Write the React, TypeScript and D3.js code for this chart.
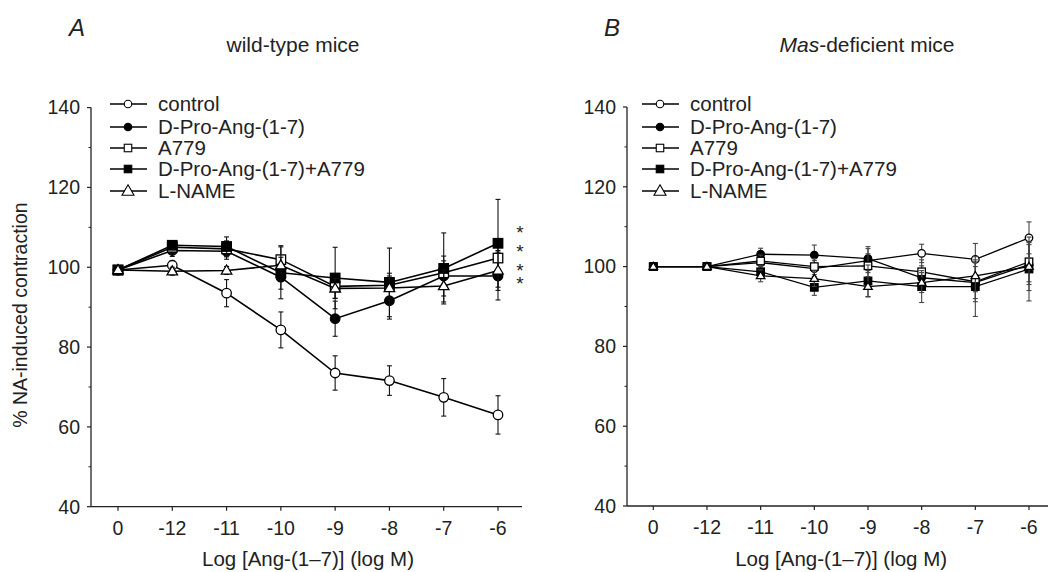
import React from 'react';
import * as d3 from 'd3';

const doses = ['0', '-12', '-11', '-10', '-9', '-8', '-7', '-6'];
const seriesNames = ['control', 'D-Pro-Ang-(1-7)', 'A779', 'D-Pro-Ang-(1-7)+A779', 'L-NAME'];
const seriesShapes = ['circleOpen', 'circleFilled', 'squareOpen', 'squareFilled', 'triangleOpen'];
const yTicks = [40, 60, 80, 100, 120, 140];
const yMinorTicks = [50, 70, 90, 110, 130];

// panel A, wild-type
const wtControl = [99.3, 100.5, 93.5, 84.3, 73.5, 71.6, 67.4, 63.0];
const wtControlErr = [0.5, 1.2, 3.4, 4.5, 4.3, 3.7, 4.7, 4.8];
const wtDPro = [99.3, 104.2, 104.0, 97.5, 87.1, 91.6, 97.8, 97.8];
const wtDProErr = [0.5, 1.5, 2.0, 3.0, 4.4, 4.6, 5.0, 6.0];
const wtA779 = [99.3, 105.0, 104.6, 101.9, 95.2, 95.5, 98.6, 102.3];
const wtA779Err = [0.5, 1.5, 2.0, 3.5, 3.0, 3.0, 3.0, 4.0];
const wtCombo = [99.3, 105.5, 105.2, 98.6, 97.3, 96.2, 99.7, 106.0];
const wtComboErr = [0.5, 1.0, 2.4, 6.5, 7.7, 8.6, 8.9, 11.0];
const wtLName = [99.3, 99.0, 99.2, 100.5, 94.7, 94.8, 95.3, 99.2];
const wtLNameErr = [0.5, 1.0, 1.0, 2.0, 2.5, 3.0, 4.0, 5.0];
const wtStars = [109.3, 104.5, 99.7, 96.5];

// panel B, Mas-deficient
const koControl = [100, 100, 101.0, 99.5, 101.5, 103.3, 101.8, 107.2];
const koControlErr = [0.3, 0.5, 1.5, 2.0, 3.0, 2.3, 4.0, 4.0];
const koDPro = [100, 100, 103.1, 102.9, 102.0, 97.2, 96.0, 100.5];
const koDProErr = [0.3, 0.5, 1.5, 2.5, 3.0, 3.0, 4.0, 5.0];
const koA779 = [100, 100, 101.4, 100.0, 100.2, 98.7, 96.2, 101.2];
const koA779Err = [0.3, 0.5, 1.5, 2.0, 3.0, 3.0, 5.0, 5.0];
const koCombo = [100, 100, 98.7, 94.8, 96.4, 95.0, 95.0, 99.4];
const koComboErr = [0.3, 0.5, 1.5, 2.0, 4.0, 4.0, 7.5, 8.0];
const koLName = [100, 100, 97.7, 97.0, 95.0, 96.0, 97.7, 100.0];
const koLNameErr = [0.3, 0.5, 1.5, 2.0, 2.5, 2.5, 4.0, 6.0];

const FONT = '"Liberation Sans", Arial, Helvetica, sans-serif';

type Series = { name: string; shape: string; values: number[]; errs: number[] };

const wtSeries: Series[] = [
  [wtControl, wtControlErr], [wtDPro, wtDProErr], [wtA779, wtA779Err], [wtCombo, wtComboErr], [wtLName, wtLNameErr],
].map(([v, e], i) => ({ name: seriesNames[i], shape: seriesShapes[i], values: v, errs: e }));

const koSeries: Series[] = [
  [koControl, koControlErr], [koDPro, koDProErr], [koA779, koA779Err], [koCombo, koComboErr], [koLName, koLNameErr],
].map(([v, e], i) => ({ name: seriesNames[i], shape: seriesShapes[i], values: v, errs: e }));

const Marker = ({ shape, x, y, size, sw }: { shape: string; x: number; y: number; size: number; sw: number }) => {
  const fill = shape.endsWith('Filled') ? '#000' : '#fff';
  if (shape.startsWith('circle')) {
    return <circle cx={x} cy={y} r={size / 2} fill={fill} stroke="#000" strokeWidth={sw} />;
  }
  if (shape.startsWith('square')) {
    return <rect x={x - size / 2} y={y - size / 2} width={size} height={size} fill={fill} stroke="#000" strokeWidth={sw} />;
  }
  const h = size * 0.95;
  return (
    <path
      d={`M${x},${y - h * 0.6} L${x + size / 2 + 0.5},${y + h * 0.4} L${x - size / 2 - 0.5},${y + h * 0.4} Z`}
      fill="#fff" stroke="#000" strokeWidth={sw}
    />
  );
};

type PanelProps = {
  data: Series[];
  axisX: number;
  axisEnd: number;
  xStart: number;
  xEnd: number;
  y40: number;
  y140: number;
  letter: string;
  letterX: number;
  title: React.ReactNode;
  titleX: number;
  legendX: number;
  markerSize: number;
  lineW: number;
  errColor: string;
  showYTitle?: boolean;
  stars?: number[];
};

const Panel = (p: PanelProps) => {
  const x = d3.scalePoint<string>().domain(doses).range([p.xStart, p.xEnd]).padding(0);
  const y = d3.scaleLinear().domain([40, 140]).range([p.y40, p.y140]);
  const line = d3.line<number>().x((_, i) => x(doses[i]) as number).y(d => y(d));
  const legendRows = [104, 127, 148, 169, 191];

  return (
    <g fontFamily={FONT} fill="#222">
      <text x={p.letterX} y={36} fontSize={24} fontStyle="italic">{p.letter}</text>
      <text x={p.titleX} y={52} fontSize={21} textAnchor="middle">{p.title}</text>

      {/* y axis */}
      <line x1={p.axisX} x2={p.axisX} y1={y(140)} y2={y(40)} stroke="#222" strokeWidth={1.3} />
      {yTicks.map(t => (
        <g key={t}>
          <line x1={p.axisX - 4} x2={p.axisX} y1={y(t)} y2={y(t)} stroke="#222" strokeWidth={1.2} />
          <text x={p.axisX - 11} y={y(t)} dy="0.35em" fontSize={19.5} textAnchor="end">{t}</text>
        </g>
      ))}
      {yMinorTicks.map(t => (
        <line key={t} x1={p.axisX - 2.5} x2={p.axisX} y1={y(t)} y2={y(t)} stroke="#222" strokeWidth={1} />
      ))}
      {p.showYTitle && (
        <text transform={`translate(27,${y(88)}) rotate(-90)`} fontSize={19.5} textAnchor="middle">
          % NA-induced contraction
        </text>
      )}

      {/* x axis */}
      <line x1={p.axisX} x2={p.axisEnd} y1={y(40)} y2={y(40)} stroke="#222" strokeWidth={1.3} />
      {doses.map(d => (
        <g key={d}>
          <line x1={x(d)} x2={x(d)} y1={y(40)} y2={y(40) + 4} stroke="#222" strokeWidth={1.2} />
          <text x={x(d)} y={y(40) + 28} fontSize={19.5} textAnchor="middle">{d}</text>
        </g>
      ))}
      <text x={(p.xStart + p.xEnd) / 2 + 0} y={566} fontSize={20.5} textAnchor="middle">
        Log [Ang-(1–7)] (log M)
      </text>

      {/* series */}
      {p.data.map(s => (
        <g key={s.name}>
          <path d={line(s.values) || ''} fill="none" stroke="#000" strokeWidth={p.lineW} />
          {s.values.map((v, i) => {
            const cx = x(doses[i]) as number;
            const e = s.errs[i];
            return (
              <g key={i} stroke={p.errColor} strokeWidth={1.1}>
                <line x1={cx} x2={cx} y1={y(v + e)} y2={y(v - e)} />
                <line x1={cx - 2.5} x2={cx + 2.5} y1={y(v + e)} y2={y(v + e)} />
                <line x1={cx - 2.5} x2={cx + 2.5} y1={y(v - e)} y2={y(v - e)} />
              </g>
            );
          })}
          {s.values.map((v, i) => (
            <Marker key={i} shape={s.shape} x={x(doses[i]) as number} y={y(v)} size={p.markerSize} sw={1.3} />
          ))}
        </g>
      ))}

      {p.stars && p.stars.map((v, i) => (
        <text key={i} x={p.xEnd + 22} y={y(v) + 9} fontSize={19} textAnchor="middle" fill="#222">*</text>
      ))}

      {/* legend */}
      {p.data.map((s, i) => (
        <g key={s.name}>
          <line x1={p.legendX} x2={p.legendX + 37} y1={legendRows[i]} y2={legendRows[i]} stroke="#000" strokeWidth={1.3} />
          <Marker shape={s.shape} x={p.legendX + 18} y={legendRows[i]} size={s.shape === 'triangleOpen' ? 11 : 7.5} sw={1.1} />
          <text x={p.legendX + 48} y={legendRows[i]} dy="0.36em" fontSize={20.5}>{s.name}</text>
        </g>
      ))}
    </g>
  );
};

export default function App() {
  return (
    <svg width={1048} height={572} style={{ position: 'absolute', left: 0, top: 0, background: '#fff' }}>
      <rect width={1048} height={572} fill="#fff" />
      <Panel
        data={wtSeries}
        axisX={91}
        axisEnd={522}
        xStart={118}
        xEnd={498}
        y40={506.7}
        y140={107.6}
        letter="A"
        letterX={69}
        title="wild-type mice"
        titleX={293}
        legendX={110}
        markerSize={9.5}
        lineW={1.6}
        errColor="#111"
        showYTitle
        stars={wtStars}
      />
      <Panel
        data={koSeries}
        axisX={627}
        axisEnd={1048}
        xStart={653.3}
        xEnd={1029}
        y40={506}
        y140={107}
        letter="B"
        letterX={604}
        title={<><tspan fontStyle="italic">Mas</tspan>-deficient mice</>}
        titleX={867}
        legendX={642}
        markerSize={7.5}
        lineW={1.3}
        errColor="#444"
      />
    </svg>
  );
}
